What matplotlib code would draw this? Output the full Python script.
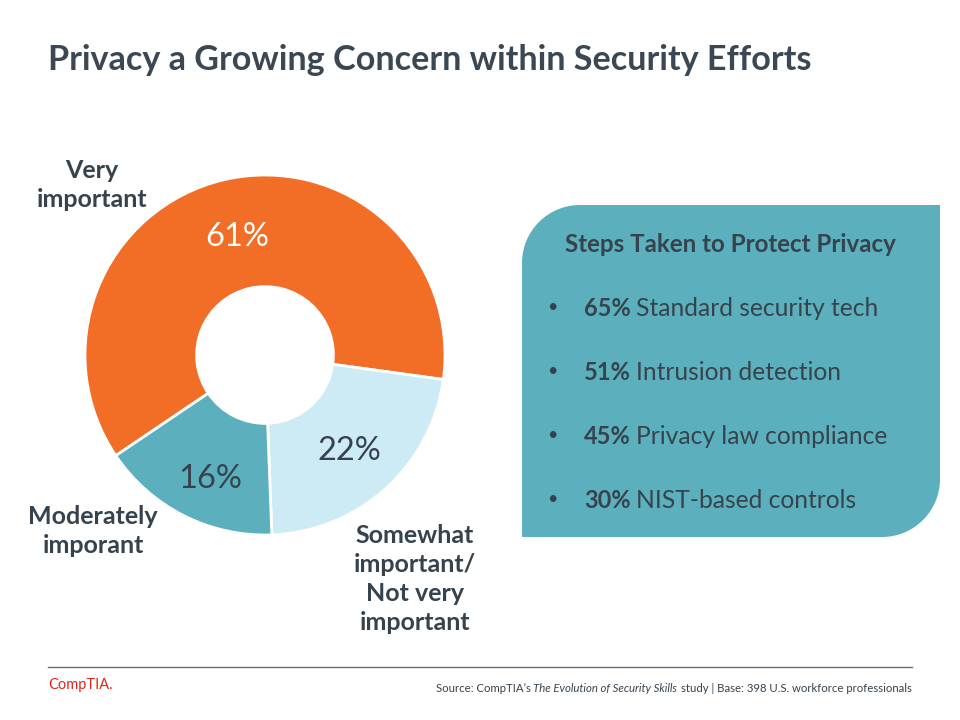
import matplotlib.pyplot as plt
from matplotlib.path import Path
from matplotlib.patches import PathPatch

plt.rcParams['font.family'] = ['Lato', 'DejaVu Sans']

# data
shares = [61, 22, 16]
share_labels = ['61%', '22%', '16%']
share_names = ['Very\nimportant', 'Somewhat\nimportant/\nNot very\nimportant', 'Moderately\nimporant']
colors = ['#F26D26', '#CDEBF4', '#5CB0BE']
label_colors = ['white', '#36434D', '#36434D']

steps_pct = ['65%', '51%', '45%', '30%']
steps_text = ['Standard security tech', 'Intrusion detection', 'Privacy law compliance', 'NIST-based controls']

dark = '#36434D'

fig = plt.figure(figsize=(9.6, 7.2), dpi=100)

# donut
cx, cy, r = 265, 355, 180
pax = fig.add_axes([(cx - r) / 960, (720 - cy - r) / 720, 2 * r / 960, 2 * r / 720])
wedges, _ = pax.pie(shares, colors=colors, startangle=214, counterclock=False,
                    wedgeprops=dict(width=0.62, edgecolor='white', linewidth=2))
pax.set_xlim(-1, 1)
pax.set_ylim(-1, 1)
pax.set_aspect('equal')
pax.axis('off')

# pixel-coordinate canvas for text and shapes, on top of the donut
ax = fig.add_axes([0, 0, 1, 1])
ax.set_xlim(0, 960)
ax.set_ylim(720, 0)
ax.axis('off')
ax.set_zorder(2)

ax.text(48, 60, 'Privacy a Growing Concern within Security Efforts', fontsize=24.6,
        fontweight='bold', color='#3B4853', va='center', ha='left')

pct_pos = [(237, 237), (349, 451), (210, 479)]
for (x, y), lab, c in zip(pct_pos, share_labels, label_colors):
    ax.text(x, y, lab, fontsize=23.5, color=c, ha='center', va='center')

name_pos = [(92, 185), (415, 579), (93, 531)]
for (x, y), name in zip(name_pos, share_names):
    ax.text(x, y, name, fontsize=18, fontweight='bold', color=dark,
            ha='center', va='center', linespacing=1.3)

# box with two rounded corners
x0, x1, y0, y1 = 522, 940, 205, 537
rr = 58
k = 0.5523 * rr
verts = [(x0, y1), (x0, y0 + rr),
         (x0, y0 + rr - k), (x0 + rr - k, y0), (x0 + rr, y0),
         (x1, y0), (x1, y1 - rr),
         (x1, y1 - rr + k), (x1 - rr + k, y1), (x1 - rr, y1),
         (x0, y1)]
codes = [Path.MOVETO, Path.LINETO,
         Path.CURVE4, Path.CURVE4, Path.CURVE4,
         Path.LINETO, Path.LINETO,
         Path.CURVE4, Path.CURVE4, Path.CURVE4,
         Path.CLOSEPOLY]
ax.add_patch(PathPatch(Path(verts, codes), facecolor='#5CB0BD', edgecolor='none'))

ax.text(730, 244, 'Steps Taken to Protect Privacy', fontsize=17.4, fontweight='bold',
        color=dark, ha='center', va='center')

step_y = [307, 371, 435, 499]
for y, p, t in zip(step_y, steps_pct, steps_text):
    ax.text(552, y, '\u2022', fontsize=13, color=dark, ha='center', va='center')
    ax.text(584, y + 1, p, fontsize=17, fontweight='bold', color=dark, ha='left', va='center')
    ax.text(636, y + 1, t, fontsize=17.7, color=dark, ha='left', va='center')

# footer
ax.plot([48, 912], [667, 667], color='#6D6E71', linewidth=1)
ax.text(48, 685, 'CompTIA.', fontsize=10.5, color='#E0261C', ha='left', va='center')

fs = 8.2
renderer = fig.canvas.get_renderer()
t3 = ax.text(912, 688, 'study | Base: 398 U.S. workforce professionals', fontsize=fs,
             color=dark, ha='right', va='center')
left = t3.get_window_extent(renderer).x0 - 4
t2 = ax.text(left, 688, 'The Evolution of Security Skills', fontsize=fs, style='italic',
             color=dark, ha='right', va='center')
left = t2.get_window_extent(renderer).x0 - 2
ax.text(left, 688, "Source: CompTIA\u2019s", fontsize=fs, color=dark, ha='right', va='center')

fig.savefig('out.png', dpi=100)
